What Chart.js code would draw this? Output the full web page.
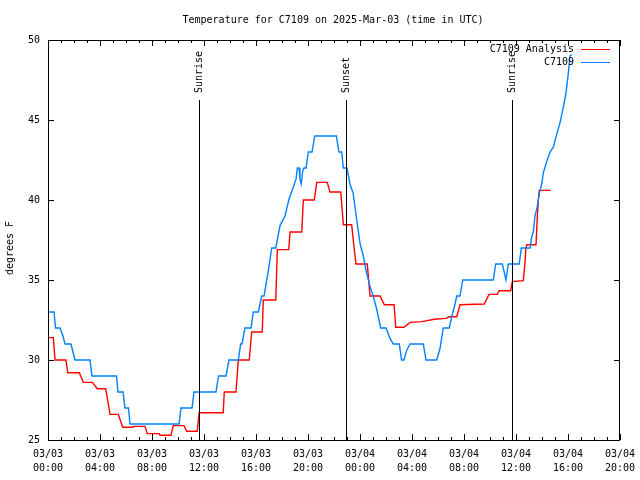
<!DOCTYPE html>
<html>
<head>
<meta charset="utf-8">
<title>Temperature for C7109</title>
<script src="https://cdn.jsdelivr.net/npm/chart.js"></script>
<style>
    body { margin: 0; background: #fff; }
    #wrap { width: 640px; height: 480px; }
</style>
</head>
<body>
<div id="wrap"><canvas id="tempChart" width="640" height="480"></canvas></div>
<script>
    // times are hours since 03/03 00:00 UTC
    var analysisHours = [0, 0.41, 0.54, 1.38, 1.52, 2.41, 2.72, 3.41, 3.79, 4.44, 4.59, 4.77, 5.41, 5.75, 6.52, 6.56,
        7.46, 7.64, 8.54, 8.62, 9.46, 9.64, 10.46, 10.67, 11.48, 11.62, 13.48, 13.56, 14.46, 14.64, 15.48, 15.67,
        16.48, 16.56, 17.52, 17.64, 18.52, 18.62, 19.52, 19.64, 20.48, 20.67, 21.48, 21.69, 22.52, 22.72, 23.36,
        23.48, 23.69, 24.56, 24.77, 25.54, 25.87, 26.62, 26.75, 27.38, 27.85, 28.75, 29.72, 30.62, 30.87, 31.44,
        31.69, 33.56, 33.92, 34.56, 34.69, 35.59, 35.72, 36.56, 36.69, 36.75, 36.82, 37.54, 37.64, 37.72, 37.79, 38.67];
    var analysisTemps = [31.4, 31.4, 30, 30, 29.2, 29.2, 28.6, 28.6, 28.2, 28.2, 27.5, 26.6, 26.6, 25.8, 25.8, 25.85,
        25.85, 25.4, 25.4, 25.3, 25.3, 25.9, 25.9, 25.55, 25.55, 26.7, 26.7, 28, 28, 30, 30, 31.75,
        31.75, 33.75, 33.75, 36.9, 36.9, 38, 38, 40, 40, 41.1, 41.1, 40.5, 40.5, 38.45, 38.45,
        37.5, 36, 36, 34, 34, 33.45, 33.45, 32.05, 32.05, 32.35, 32.4, 32.55, 32.6, 32.7, 32.7,
        33.45, 33.5, 34.1, 34.1, 34.33, 34.33, 34.9, 34.96, 36.04, 36.9, 37.2, 37.2, 38.96, 40, 40.6, 40.6];

    var obsHours = [0, 0.46, 0.58, 0.92, 1.15, 1.31, 1.77, 1.92, 2.08, 3.23, 3.38, 5.27, 5.38, 5.77, 5.92, 6.19, 6.31,
        10.08, 10.23, 11.08, 11.23, 12.92, 13.12, 13.69, 13.92, 14.64, 14.82, 14.92, 15.15, 15.62, 15.79, 16.18,
        16.44, 16.62, 16.95, 17.21, 17.52, 17.85, 18.23, 18.52, 18.95, 19.08, 19.18, 19.31, 19.38, 19.48, 19.59,
        19.69, 19.85, 20.02, 20.31, 20.52, 22.18, 22.38, 22.59, 22.72, 23.0, 23.23, 23.48, 23.75, 24.0, 24.25,
        24.52, 24.77, 25.02, 25.28, 25.59, 26.0, 26.31, 26.56, 27.02, 27.2, 27.38, 27.59, 27.85, 28.87, 29.08,
        29.9, 30.15, 30.41, 30.87, 31.05, 31.31, 31.44, 31.69, 31.9, 34.25, 34.44, 34.95, 35.23, 35.41, 36.25,
        36.41, 37.08, 37.21, 37.33, 37.46, 37.64, 37.79, 37.98, 38.1, 38.25, 38.44, 38.62, 38.87, 39.13, 39.38,
        39.64, 39.85, 40.02, 40.15, 40.28];
    var obsTemps = [33, 33, 32, 32, 31.5, 31, 31, 30.5, 30, 30, 29, 29, 28, 28, 27, 27, 26,
        26, 27, 27, 28, 28, 29, 29, 30, 30, 31, 31, 32, 32, 33, 33,
        34, 34, 35.6, 37, 37, 38.4, 39, 40, 41, 41.3, 42, 42, 41.3, 41, 41.8,
        42, 42, 43, 43, 44, 44, 43, 43, 42, 42, 41, 40.4, 38.75, 37.3, 36.5,
        35.4, 34.6, 34, 33.2, 32, 32, 31.35, 31, 31, 30, 30, 30.6, 31, 31, 30,
        30, 30.7, 32, 32, 32.7, 33.5, 34, 34, 35, 35, 36, 36, 35, 36, 36,
        37, 37, 37.7, 38, 39, 39.6, 40.4, 41, 41.7, 42.1, 42.6, 43, 43.3, 44.1, 44.8,
        45.8, 46.7, 47.9, 49, 49.1];

    var tickHours = [0, 4, 8, 12, 16, 20, 24, 28, 32, 36, 40, 44];
    var tickLabels = [['03/03', '00:00'], ['03/03', '04:00'], ['03/03', '08:00'], ['03/03', '12:00'],
        ['03/03', '16:00'], ['03/03', '20:00'], ['03/04', '00:00'], ['03/04', '04:00'],
        ['03/04', '08:00'], ['03/04', '12:00'], ['03/04', '16:00'], ['03/04', '20:00']];
    var yTicks = [25, 30, 35, 40, 45, 50];

    var eventHours = [11.58, 22.96, 35.69];
    var eventNames = ['Sunrise', 'Sunset', 'Sunrise'];

    var seriesNames = ['C7109 Analysis', 'C7109'];
    var seriesColors = ['#ff0000', '#0080ff'];

    var FONT = '10px "DejaVu Sans Mono", monospace';

    function toPoints(hours, temps) {
        return hours.map(function (h, i) { return { x: h, y: temps[i] }; });
    }

    // frame, inward tics, sunrise/sunset markers, title and key, gnuplot style
    var gnuplotDecor = {
        id: 'gnuplotDecor',
        afterDatasetsDraw: function (chart) {
            var ctx = chart.ctx;
            var area = chart.chartArea;
            var xs = chart.scales.x, ys = chart.scales.y;
            ctx.save();
            ctx.strokeStyle = '#000';
            ctx.lineWidth = 1;

            ctx.strokeRect(area.left + 0.5, area.top + 0.5, area.right - area.left - 1, area.bottom - area.top);

            ctx.beginPath();
            for (var h = 0; h <= 44; h++) {
                var px = Math.round(xs.getPixelForValue(h)) + 0.5;
                var len = (h % 4 === 0) ? 6 : 3;
                ctx.moveTo(px, area.bottom);
                ctx.lineTo(px, area.bottom - len);
                ctx.moveTo(px, area.top);
                ctx.lineTo(px, area.top + len);
            }
            yTicks.forEach(function (v) {
                var py = Math.round(ys.getPixelForValue(v)) + 0.5;
                ctx.moveTo(area.left, py);
                ctx.lineTo(area.left + 6, py);
                ctx.moveTo(area.right, py);
                ctx.lineTo(area.right - 6, py);
            });
            ctx.stroke();

            ctx.font = FONT;
            ctx.fillStyle = '#000';
            eventHours.forEach(function (h, i) {
                var px = Math.round(xs.getPixelForValue(h)) + 0.5;
                ctx.beginPath();
                ctx.moveTo(px, 100);
                ctx.lineTo(px, area.bottom);
                ctx.stroke();
                ctx.save();
                ctx.translate(px, 93);
                ctx.rotate(-Math.PI / 2);
                ctx.textAlign = 'left';
                ctx.textBaseline = 'middle';
                ctx.fillText(eventNames[i], 0, 0);
                ctx.restore();
            });

            ctx.textAlign = 'center';
            ctx.textBaseline = 'middle';
            ctx.fillText('Temperature for C7109 on 2025-Mar-03 (time in UTC)', 333, 20);

            ctx.save();
            ctx.translate(10.5, 248);
            ctx.rotate(-Math.PI / 2);
            ctx.fillText('degrees F', 0, 0);
            ctx.restore();

            seriesNames.forEach(function (name, i) {
                var y = 49 + i * 13;
                ctx.textAlign = 'right';
                ctx.fillStyle = '#000';
                ctx.fillText(name, 574, y);
                ctx.strokeStyle = seriesColors[i];
                ctx.beginPath();
                ctx.moveTo(581, y + 0.5);
                ctx.lineTo(610, y + 0.5);
                ctx.stroke();
            });
            ctx.restore();
        }
    };

    var ctx = document.getElementById('tempChart').getContext('2d');
    var tempChart = new Chart(ctx, {
        type: 'line',
        data: {
            datasets: [
                {
                    label: seriesNames[0],
                    data: toPoints(analysisHours, analysisTemps),
                    borderColor: seriesColors[0],
                    borderWidth: 1.4,
                    pointRadius: 0,
                    tension: 0,
                    order: 2
                },
                {
                    label: seriesNames[1],
                    data: toPoints(obsHours, obsTemps),
                    borderColor: seriesColors[1],
                    borderWidth: 1.4,
                    pointRadius: 0,
                    tension: 0,
                    order: 1
                }
            ]
        },
        options: {
            responsive: false,
            animation: false,
            devicePixelRatio: 1,
            layout: { padding: { top: 40, right: 20, left: 0, bottom: 0 } },
            plugins: {
                legend: { display: false },
                title: { display: false },
                tooltip: { enabled: false }
            },
            scales: {
                x: {
                    type: 'linear',
                    min: 0,
                    max: 44,
                    border: { display: false },
                    grid: { display: false, drawTicks: false, tickLength: 0 },
                    afterBuildTicks: function (scale) {
                        scale.ticks = tickHours.map(function (h) { return { value: h }; });
                    },
                    ticks: {
                        autoSkip: false,
                        maxRotation: 0,
                        minRotation: 0,
                        padding: 7,
                        color: '#000',
                        font: { family: '"DejaVu Sans Mono", monospace', size: 10, lineHeight: 1.4 },
                        callback: function (value) {
                            return tickLabels[tickHours.indexOf(value)];
                        }
                    },
                    afterFit: function (scale) {
                        scale.height = 40;
                        scale.paddingLeft = 0;
                        scale.paddingRight = 0;
                    }
                },
                y: {
                    min: 25,
                    max: 50,
                    border: { display: false },
                    grid: { display: false, drawTicks: false, tickLength: 0 },
                    afterBuildTicks: function (scale) {
                        scale.ticks = yTicks.map(function (v) { return { value: v }; });
                    },
                    ticks: {
                        padding: 8,
                        color: '#000',
                        font: { family: '"DejaVu Sans Mono", monospace', size: 10 }
                    },
                    afterFit: function (scale) {
                        scale.width = 48;
                        scale.paddingTop = 0;
                        scale.paddingBottom = 0;
                    }
                }
            }
        },
        plugins: [gnuplotDecor]
    });
</script>
</body>
</html>
